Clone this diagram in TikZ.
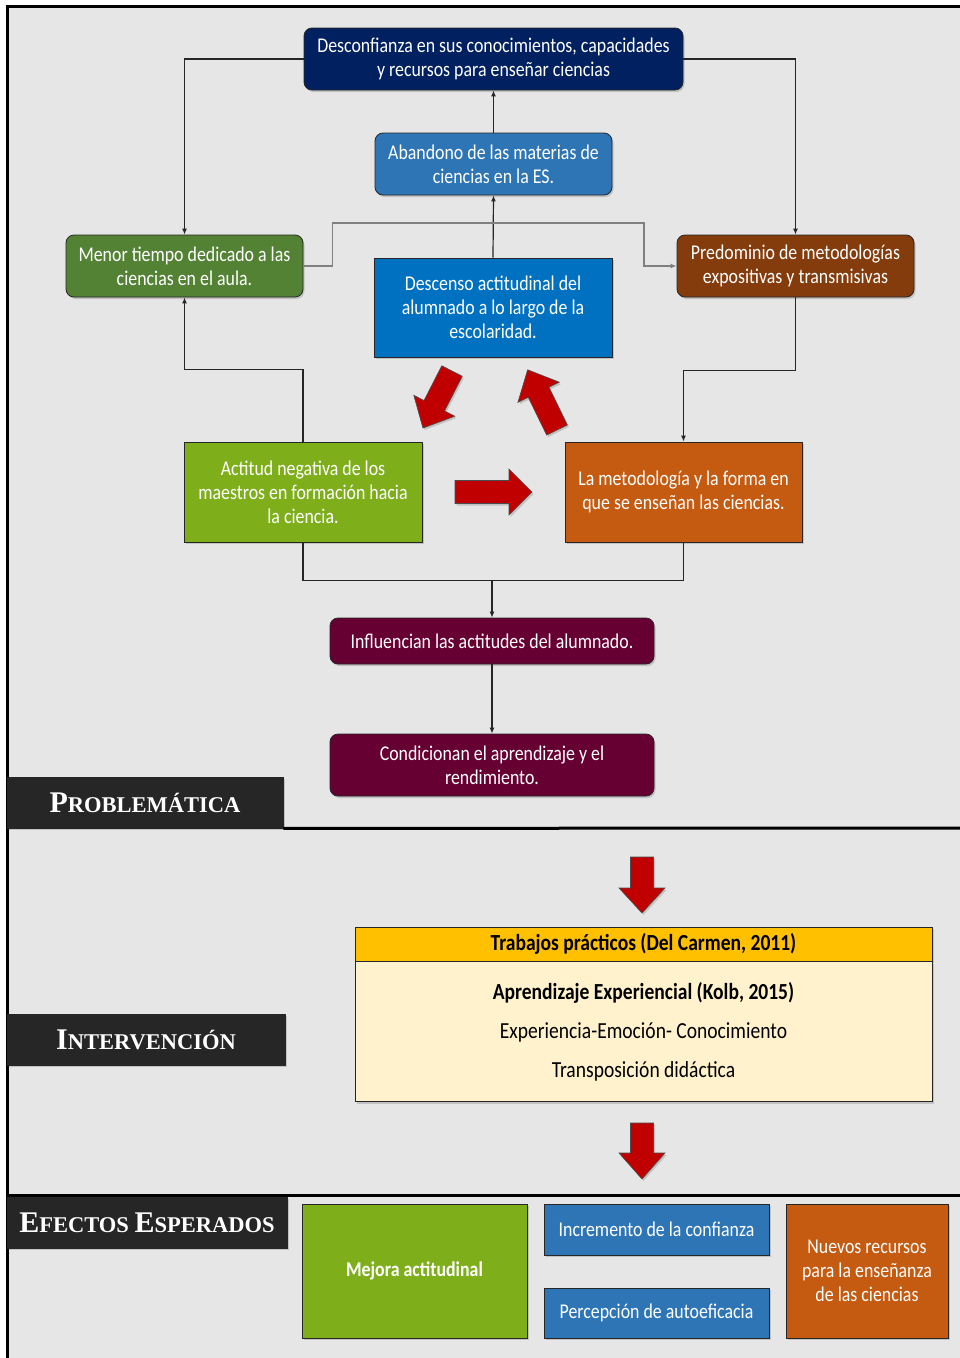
\documentclass[tikz,border=0pt]{standalone}
\usepackage{fontspec}
\setmainfont{Carlito}[FakeStretch=0.85]
\newfontfamily\secfont{Liberation Serif}
\usetikzlibrary{arrows.meta,shadows}
\definecolor{bggray}{HTML}{E6E6E6}
\definecolor{navy}{HTML}{002060}
\definecolor{midblue}{HTML}{2E75B6}
\definecolor{brightblue}{HTML}{0070C0}
\definecolor{leafgreen}{HTML}{548235}
\definecolor{limegreen}{HTML}{7EAF1B}
\definecolor{rust}{HTML}{843C0C}
\definecolor{burnt}{HTML}{C55A11}
\definecolor{wine}{HTML}{660033}
\definecolor{gold}{HTML}{FFC000}
\definecolor{cream}{HTML}{FFF2CC}
\definecolor{arrred}{HTML}{C00000}
\definecolor{labelgray}{HTML}{262626}
\def\redarrow(#1,#2,#3,#4,#5){
  \filldraw[bigarrow, shift={(#1,#2)}, rotate=#3]
    (0,-11.5) -- (#4-#5,-11.5) -- (#4-#5,-23) -- (#4,0) -- (#4-#5,23) -- (#4-#5,11.5) -- (0,11.5) -- cycle;
}
\def\bigcap#1{{\fontsize{30}{30}\selectfont #1}}
\def\smallcap#1{{\fontsize{22.5}{22.5}\selectfont #1}}
\tikzset{
  sbox/.style={draw=black!85, line width=0.8pt, text=white, align=center, inner sep=2pt,
    font=\fontsize{21}{24}\selectfont, yshift=-1.5pt,
    drop shadow={shadow xshift=1.5pt, shadow yshift=-2pt, opacity=0.35}},
  rbox/.style={sbox, rounded corners=8pt},
  seclabel/.style={sbox, fill=labelgray, font=\secfont\bfseries},
  conn/.style={draw=labelgray, line width=1.2pt, -{Latex[length=6pt,width=5pt]}},
  plain/.style={draw=labelgray, line width=1.2pt},
  gconn/.style={draw=gray, line width=1.5pt, -{Latex[length=6pt,width=5pt]}},
  frame/.style={draw=black, line width=3pt},
  bigarrow/.style={fill=arrred, draw=black!70, line width=0.6pt,
    drop shadow={shadow xshift=1.5pt, shadow yshift=-2pt, opacity=0.35}}
}
\begin{document}
\begin{tikzpicture}[x=1pt, y=-1pt]
\useasboundingbox (0,0) rectangle (959,1358);
\fill[bggray] (7,6) rectangle (966,1366);
\draw[frame] (7,1366) -- (7,6) -- (966,6);
\draw[frame] (7,1195) -- (966,1195);

\node[rbox, fill=navy, minimum width=379, minimum height=62] (desconf) at (493.5,57.5) {Desconfianza en sus conocimientos, capacidades\\y recursos para enseñar ciencias};
\node[rbox, fill=midblue, minimum width=237, minimum height=62] (abandono) at (493.5,162.5) {Abandono de las materias de\\ciencias en la ES.};
\node[rbox, fill=leafgreen, minimum width=237, minimum height=62] (menor) at (184.5,264.5) {Menor tiempo dedicado a las\\ciencias en el aula.};
\node[rbox, fill=rust, minimum width=237, minimum height=62] (predominio) at (795.5,264.5) {Predominio de metodologías\\expositivas y transmisivas};
\node[sbox, fill=brightblue, minimum width=238, minimum height=99] (descenso) at (493,306) {Descenso actitudinal del\\alumnado a lo largo de la\\escolaridad.};
\node[sbox, fill=limegreen, minimum width=238, minimum height=100] (actitud) at (303,490.5) {Actitud negativa de los\\maestros en formación hacia\\la ciencia.};
\node[sbox, fill=burnt, minimum width=237, minimum height=100] (metodologia) at (683.5,490.5) {La metodología y la forma en\\que se enseñan las ciencias.};
\node[rbox, fill=wine, minimum width=324, minimum height=46] (influencian) at (492,639.5) {Influencian las actitudes del alumnado.};
\node[rbox, fill=wine, minimum width=324, minimum height=62] (condicionan) at (492,763.5) {Condicionan el aprendizaje y el\\rendimiento.};

\draw[conn] (abandono.north) -- (desconf.south);
\draw[conn] (descenso.north) -- (abandono.south);
\draw[conn] (desconf.west) -| (menor.north);
\draw[conn] (desconf.east) -| (predominio.north);
\draw[gconn] (menor.east) -- ++(29,0) |- (644,223) |- (predominio.west);
\draw[conn] (actitud.north) -- ++(0,-72) -| (menor.south);
\draw[conn] (predominio.south) -- ++(0,73) -| (metodologia.north);
\draw[plain] (actitud.south) -- ++(0,38) -| (metodologia.south);
\draw[conn] ([yshift=38pt]influencian.north) -- (influencian.north);
\draw[conn] (influencian.south) -- (condicionan.north);

\redarrow(452,371,243,64,25)
\redarrow(557,430,116,67,25)
\redarrow(455,492,0,77,23)

\node[seclabel, minimum width=276, minimum height=51] (problematica) at (145,801) {\bigcap{P}\smallcap{ROBLEMÁTICA}};
\draw[frame] (problematica.south east) -- (966,828);

\redarrow(642,857,270,56,25)
\node[sbox, fill=gold, text=black, font=\fontsize{23}{26}\selectfont\bfseries, minimum width=577, minimum height=34] (trabajos) at (643.5,942.5) {Trabajos prácticos (Del Carmen, 2011)};
\node[sbox, fill=cream, text=black, font=\fontsize{23}{26}\selectfont, minimum width=577, minimum height=140, anchor=north, yshift=1.5pt] (kolb) at (trabajos.south) {\textbf{Aprendizaje Experiencial (Kolb, 2015)}\\[13pt]Experiencia-Emoción- Conocimiento\\[13pt]Transposición didáctica};
\node[seclabel, minimum width=278, minimum height=51] (intervencion) at (146,1038) {\bigcap{I}\smallcap{NTERVENCIÓN}};

\redarrow(642,1123,270,56,26)
\node[seclabel, minimum width=280, minimum height=51] (efectos) at (147,1221) {\bigcap{E}\smallcap{FECTOS }\bigcap{E}\smallcap{SPERADOS}};
\node[sbox, fill=limegreen, font=\fontsize{21}{24}\selectfont\bfseries, minimum width=225, minimum height=134] (mejora) at (414.5,1269.5) {Mejora actitudinal};
\node[sbox, fill=midblue, minimum width=225, minimum height=51] (incremento) at (656.5,1228) {Incremento de la confianza};
\node[sbox, fill=midblue, minimum width=225, minimum height=50] (percepcion) at (656.5,1311.5) {Percepción de autoeficacia};
\node[sbox, fill=burnt, minimum width=162, minimum height=134] (nuevos) at (867,1269.5) {Nuevos recursos\\para la enseñanza\\de las ciencias};
\end{tikzpicture}
\end{document}
